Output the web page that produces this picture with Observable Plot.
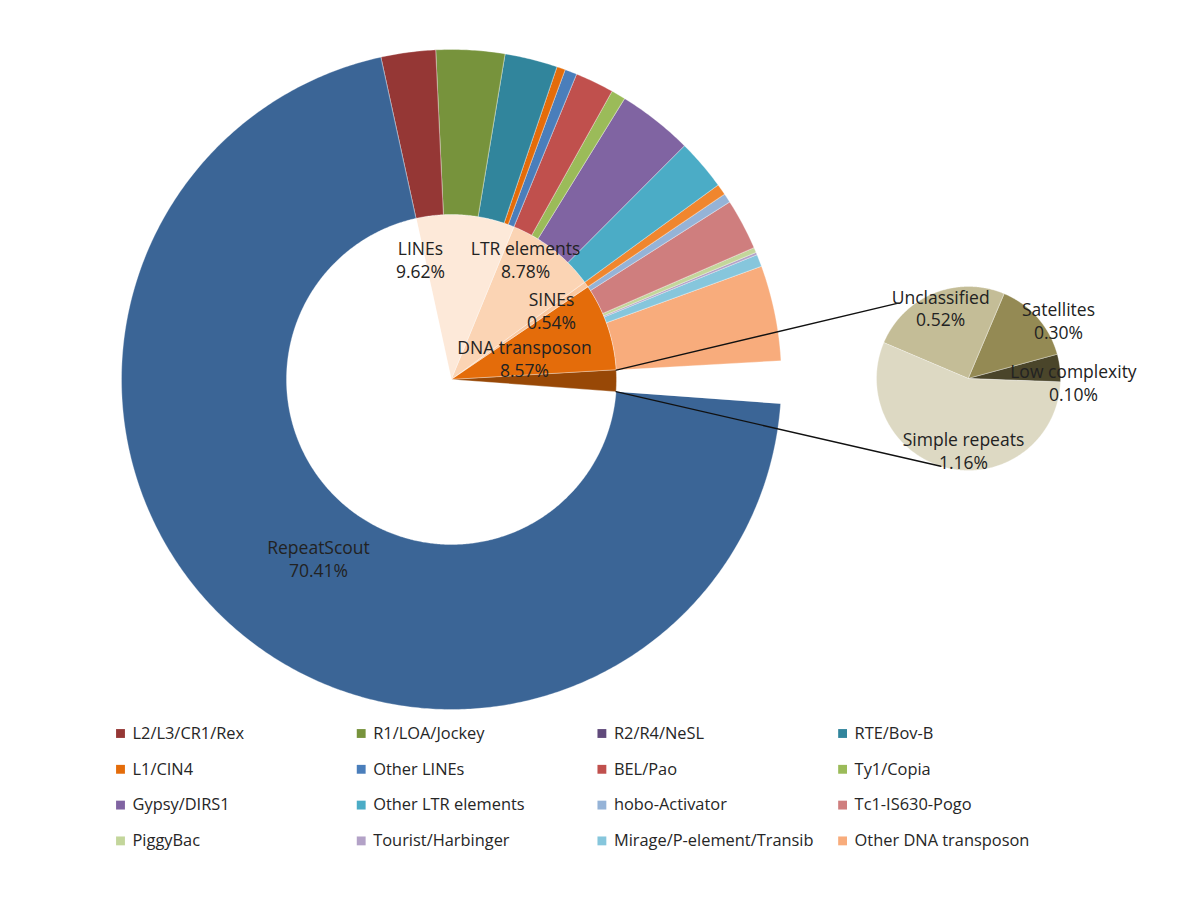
<!DOCTYPE html>
<html>
<head>
<meta charset="utf-8">
<script src="https://cdn.jsdelivr.net/npm/d3@7"></script>
<script src="https://cdn.jsdelivr.net/npm/@observablehq/plot@0.6"></script>
<style>
  body { margin: 0; background: #fff; }
  #chart { width: 1200px; height: 900px; }
</style>
</head>
<body>
<div id="chart"></div>
<script>
// ---------------- DATA ----------------
// Inner pie (repeat classes), clockwise
const groupNames  = ["LINEs", "LTR elements", "SINEs", "DNA transposon"];
const groupValues = [9.62, 8.78, 0.54, 8.57];

// Outer ring (sub-types), clockwise, grouped by class
const subNames  = ["L2/L3/CR1/Rex", "R1/LOA/Jockey", "R2/R4/NeSL", "RTE/Bov-B", "L1/CIN4", "Other LINEs",
                   "BEL/Pao", "Ty1/Copia", "Gypsy/DIRS1", "Other LTR elements",
                   "SINE",
                   "hobo-Activator", "Tc1-IS630-Pogo", "PiggyBac", "Tourist/Harbinger", "Mirage/P-element/Transib", "Other DNA transposon"];
const subValues = [2.67, 3.36, 0.00, 2.58, 0.42, 0.59,
                   1.90, 0.70, 3.68, 2.50,
                   0.54,
                   0.45, 2.50, 0.25, 0.12, 0.60, 4.65];

// RepeatScout slice
const scoutName  = "RepeatScout";
const scoutValue = 70.41;

// Secondary pie (other repeats), clockwise
const sideNames  = ["Unclassified", "Satellites", "Low complexity", "Simple repeats"];
const sideValues = [0.52, 0.30, 0.10, 1.16];

// Legend entries
const legendNames = ["L2/L3/CR1/Rex", "R1/LOA/Jockey", "R2/R4/NeSL", "RTE/Bov-B",
                     "L1/CIN4", "Other LINEs", "BEL/Pao", "Ty1/Copia",
                     "Gypsy/DIRS1", "Other LTR elements", "hobo-Activator", "Tc1-IS630-Pogo",
                     "PiggyBac", "Tourist/Harbinger", "Mirage/P-element/Transib", "Other DNA transposon"];

// ---------------- STYLE ----------------
const colorMap = {
  "LINEs": "#FDE9D9", "LTR elements": "#FBD4B4", "SINEs": "#FAC8A0", "DNA transposon": "#E46C0A",
  "Other repeats": "#984806", "RepeatScout": "#3B6596",
  "L2/L3/CR1/Rex": "#953735", "R1/LOA/Jockey": "#77933C", "R2/R4/NeSL": "#604A7B", "RTE/Bov-B": "#31859C",
  "L1/CIN4": "#E46C0A", "Other LINEs": "#4A7EBB", "BEL/Pao": "#C0504D", "Ty1/Copia": "#9BBB59",
  "Gypsy/DIRS1": "#8064A2", "Other LTR elements": "#4BACC6", "SINE": "#F0862E",
  "hobo-Activator": "#95B3D7", "Tc1-IS630-Pogo": "#CF7E7E", "PiggyBac": "#C3D69B",
  "Tourist/Harbinger": "#B3A2C7", "Mirage/P-element/Transib": "#86C6DC", "Other DNA transposon": "#F8AC7C",
  "Unclassified": "#C4BD97", "Satellites": "#948A54", "Low complexity": "#4A452A", "Simple repeats": "#DDD9C3"
};

// ---------------- LAYOUT ----------------
const W = 1200, H = 900;
const main = {cx: 451, cy: 379, r0: 165, r1: 330, start: -12.3};
const side = {cx: 968, cy: 378, r: 92, start: -67};
const fontSize = 17.5;
// label anchors as polar (degrees clockwise from 12 o'clock, radius) around each pie centre
const mainLabelPos = {"LINEs": [-14.5, 124], "LTR elements": [31.7, 141], "SINEs": [55.4, 121.5],
                      "DNA transposon": [73.9, 76], "RepeatScout": [216.6, 223]};
const sideLabelPos = {"Unclassified": [-21.5, 76], "Satellites": [57.2, 107],
                      "Low complexity": [92.2, 105], "Simple repeats": [184, 72]};
const connectorEnds = [[-43, 103], [197.5, 92]];

// ---------------- GEOMETRY ----------------
const rad = d => d * Math.PI / 180;
const polar = (cx, cy, a, r) => [cx + r * Math.sin(rad(a)), cy - r * Math.cos(rad(a))];
function wedge(key, id, cx, cy, rIn, rOut, a0, a1) {
  const pts = [];
  const n = Math.max(2, Math.ceil((a1 - a0) / 0.5));
  for (let i = 0; i <= n; i++) {
    const [x, y] = polar(cx, cy, a0 + (a1 - a0) * i / n, rOut);
    pts.push({key, id, x, y});
  }
  if (rIn > 0) {
    for (let i = n; i >= 0; i--) {
      const [x, y] = polar(cx, cy, a0 + (a1 - a0) * i / n, rIn);
      pts.push({key, id, x, y});
    }
  } else {
    pts.push({key, id, x: cx, y: cy});
  }
  return pts;
}

const sideTotal = d3.sum(sideValues);
const total = d3.sum(groupValues) + sideTotal + scoutValue;
const deg = v => v / total * 360;

const shapes = [];
let idc = 0;
// inner pie
let a = main.start;
groupNames.forEach((g, i) => {
  const a1 = a + deg(groupValues[i]);
  shapes.push(...wedge(g, idc++, main.cx, main.cy, 0, main.r0, a, a1));
  a = a1;
});
const otherStart = a, otherEnd = a + deg(sideTotal);
shapes.push(...wedge("Other repeats", idc++, main.cx, main.cy, 0, main.r0, otherStart, otherEnd));
// RepeatScout ring
shapes.push(...wedge(scoutName, idc++, main.cx, main.cy, main.r0, main.r1, otherEnd, otherEnd + deg(scoutValue)));
// outer ring
a = main.start;
subNames.forEach((s, i) => {
  const a1 = a + deg(subValues[i]);
  if (subValues[i] > 0) shapes.push(...wedge(s, idc++, main.cx, main.cy, main.r0, main.r1, a, a1));
  a = a1;
});
// secondary pie
a = side.start;
sideNames.forEach((s, i) => {
  const a1 = a + sideValues[i] / sideTotal * 360;
  shapes.push(...wedge(s, idc++, side.cx, side.cy, 0, side.r, a, a1));
  a = a1;
});

// connectors
const connectors = [];
[[otherStart, 0], [otherEnd, 1]].forEach(([ang, k]) => {
  const [x0, y0] = polar(main.cx, main.cy, ang, main.r0);
  const [x1, y1] = polar(side.cx, side.cy, connectorEnds[k][0], connectorEnds[k][1]);
  connectors.push({k, x: x0, y: y0}, {k, x: x1, y: y1});
});

// labels
const fmt = v => v.toFixed(2) + "%";
const labels = [];
groupNames.forEach((g, i) => {
  const [x, y] = polar(main.cx, main.cy, ...mainLabelPos[g]);
  labels.push({x, y, text: g + "\n" + fmt(groupValues[i])});
});
{
  const [x, y] = polar(main.cx, main.cy, ...mainLabelPos[scoutName]);
  labels.push({x, y, text: scoutName + "\n" + fmt(scoutValue)});
}
sideNames.forEach((s, i) => {
  const [x, y] = polar(side.cx, side.cy, ...sideLabelPos[s]);
  labels.push({x, y, text: s + "\n" + fmt(sideValues[i])});
});

// legend
const legend = legendNames.map((name, i) => ({
  name, x: 120 + (i % 4) * 240.7, y: 733 + Math.floor(i / 4) * 35.8
}));

const keys = Object.keys(colorMap);
const chart = Plot.plot({
  width: W, height: H,
  margin: 0,
  style: {fontFamily: "'Open Sans', sans-serif", background: "#fff", overflow: "visible"},
  x: {domain: [0, W], range: [0, W], axis: null},
  y: {domain: [0, H], range: [0, H], axis: null},
  color: {domain: keys, range: keys.map(k => colorMap[k])},
  marks: [
    Plot.line(shapes, {x: "x", y: "y", z: "id", fill: "key", stroke: "#fff", strokeWidth: 0.7, strokeOpacity: 0.45, curve: "linear-closed"}),
    Plot.line(connectors, {x: "x", y: "y", z: "k", stroke: "#111", strokeWidth: 1.4}),
    Plot.text(labels, {x: "x", y: "y", text: "text", fontSize, lineHeight: 1.3, fill: "#222"}),
    Plot.dot(legend, {x: "x", y: "y", fill: "name", symbol: "square", r: 5}),
    Plot.text(legend, {x: d => d.x + 12, y: "y", text: "name", textAnchor: "start", fontSize: 16.4, fill: "#262626"})
  ]
});
document.getElementById("chart").append(chart);
</script>
</body>
</html>
